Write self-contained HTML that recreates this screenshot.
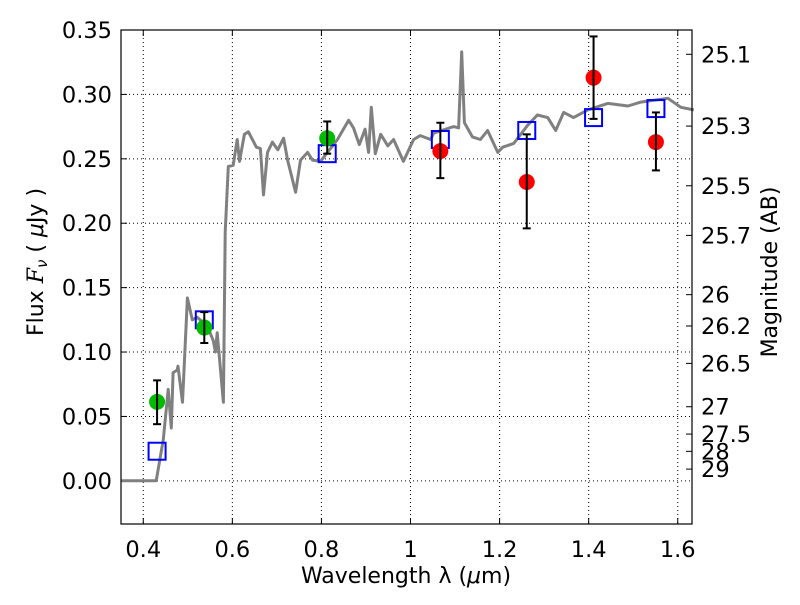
<!DOCTYPE html>
<html><head><meta charset="utf-8"><style>
body{margin:0;background:#fff;}
svg text{font-family:"DejaVu Sans","Liberation Sans",sans-serif;fill:#000;}
</style></head><body>
<svg id="chart" width="800" height="600" xmlns="http://www.w3.org/2000/svg"></svg>
<script>
// spectrum data
const specLambda=[0.35,0.429,0.445,0.456,0.463,0.467,0.476,0.478,0.488,0.499,0.510,0.521,0.544,0.557,0.562,0.566,0.580,0.584,0.591,0.602,0.611,0.616,0.627,0.636,0.654,0.663,0.670,0.679,0.690,0.702,0.715,0.724,0.742,0.753,0.769,0.780,0.798,0.836,0.861,0.872,0.885,0.898,0.906,0.912,0.921,0.933,0.949,0.962,0.984,1.007,1.022,1.045,1.052,1.097,1.108,1.115,1.121,1.139,1.157,1.173,1.196,1.207,1.232,1.263,1.285,1.308,1.326,1.344,1.366,1.398,1.443,1.488,1.517,1.578,1.607,1.636];
const specFlux=[0,0,0.032,0.071,0.041,0.084,0.086,0.089,0.061,0.142,0.125,0.127,0.120,0.109,0.100,0.115,0.061,0.193,0.244,0.245,0.265,0.248,0.269,0.271,0.259,0.258,0.222,0.255,0.263,0.257,0.266,0.249,0.224,0.249,0.255,0.249,0.248,0.265,0.280,0.274,0.261,0.273,0.255,0.290,0.254,0.269,0.260,0.265,0.248,0.265,0.268,0.265,0.270,0.275,0.274,0.333,0.278,0.267,0.265,0.272,0.255,0.259,0.262,0.276,0.284,0.282,0.272,0.286,0.282,0.288,0.293,0.291,0.294,0.297,0.290,0.288];
// photometry
const greenLambda=[0.431,0.537,0.813];
const greenFlux=[0.0613,0.119,0.266];
const greenLo=[0.044,0.107,0.254];
const greenHi=[0.078,0.131,0.279];
const redLambda=[1.067,1.261,1.411,1.551];
const redFlux=[0.256,0.232,0.313,0.263];
const redLo=[0.235,0.196,0.281,0.241];
const redHi=[0.278,0.269,0.345,0.286];
const modelLambda=[0.431,0.537,0.813,1.067,1.261,1.411,1.551];
const modelFlux=[0.023,0.125,0.254,0.265,0.272,0.282,0.289];
// axes
const xTicks=[0.4,0.6,0.8,1.0,1.2,1.4,1.6];
const xTickLabels=["0.4","0.6","0.8","1","1.2","1.4","1.6"];
const yTicks=[0,0.05,0.1,0.15,0.2,0.25,0.3,0.35];
const yTickLabels=["0.00","0.05","0.10","0.15","0.20","0.25","0.30","0.35"];
const magTicks=[25.1,25.3,25.5,25.7,26,26.2,26.5,27,27.5,28,29];
const magTickLabels=["25.1","25.3","25.5","25.7","26","26.2","26.5","27","27.5","28","29"];

const L=121,R=692,T=30,B=524;
const X0=0.35,X1=1.632,Y0=-0.0335,Y1=0.35;
const FS=22.5;
const sx=v=>L+(v-X0)/(X1-X0)*(R-L);
const sy=v=>B-(v-Y0)/(Y1-Y0)*(B-T);
const svg=document.getElementById('chart');
const NS="http://www.w3.org/2000/svg";
function mk(tag,attrs,parent){const e=document.createElementNS(NS,tag);for(const k in attrs)e.setAttribute(k,attrs[k]);(parent||svg).appendChild(e);return e;}

// grid
xTicks.forEach((v,i)=>{
 const g=mk('line',{x1:sx(v),x2:sx(v),y1:T,y2:B,stroke:'#000','stroke-width':1,'stroke-dasharray':'1,3'});
 
 
 mk('line',{x1:sx(v),x2:sx(v),y1:B,y2:B-6,stroke:'#000'});
 mk('line',{x1:sx(v),x2:sx(v),y1:T,y2:T+6,stroke:'#000'});
 const t=mk('text',{x:sx(v),y:B+33,'text-anchor':'middle','font-size':FS});
 t.textContent=xTickLabels[i];
 
 
});
yTicks.forEach((v,i)=>{
 const g=mk('line',{x1:L,x2:R,y1:sy(v),y2:sy(v),stroke:'#000','stroke-width':1,'stroke-dasharray':'1,3'});
 
 
 mk('line',{x1:L,x2:L+6,y1:sy(v),y2:sy(v),stroke:'#000'});
 const t=mk('text',{x:L-9,y:sy(v)+8,'text-anchor':'end','font-size':FS});
 t.textContent=yTickLabels[i];
 
 
});
magTicks.forEach((m,i)=>{
 const f=Math.pow(10,(23.9-m)/2.5);
 mk('line',{x1:R,x2:R-6,y1:sy(f),y2:sy(f),stroke:'#000'});
 const t=mk('text',{x:R+9,y:sy(f)+8,'font-size':FS});
 t.textContent=magTickLabels[i];
 
 
});

// spectrum
const pts=specLambda.map((l,i)=>sx(l).toFixed(1)+','+sy(specFlux[i]).toFixed(1)).join(' ');
const sp=mk('polyline',{points:pts,fill:'none',stroke:'#808080','stroke-width':3,'stroke-linejoin':'round'});



// model squares
modelLambda.forEach((l,i)=>{
 const r=mk('rect',{x:sx(l)-8.5,y:sy(modelFlux[i])-8.5,width:17,height:17,fill:'none',stroke:'#0000ff','stroke-width':2});
 
 
});
function pointsWithErr(lam,flux,lo,hi,color,name){
 lam.forEach((l,i)=>{
  const x=sx(l);
  const c=mk('circle',{cx:x,cy:sy(flux[i]),r:8,fill:color});
  
  
  const e=mk('line',{x1:x,x2:x,y1:sy(lo[i]),y2:sy(hi[i]),stroke:'#000','stroke-width':2});
  
  
  mk('line',{x1:x-4,x2:x+4,y1:sy(lo[i]),y2:sy(lo[i]),stroke:'#000','stroke-width':2});
  mk('line',{x1:x-4,x2:x+4,y1:sy(hi[i]),y2:sy(hi[i]),stroke:'#000','stroke-width':2});
 });
}
pointsWithErr(greenLambda,greenFlux,greenLo,greenHi,'#00bb00','ground-photometry-point');
pointsWithErr(redLambda,redFlux,redLo,redHi,'#ff0000','hst-photometry-point');

// frame
const fr=mk('rect',{x:L,y:T,width:R-L,height:B-T,fill:'none',stroke:'#000','stroke-width':1.2});


</script>
<svg width="800" height="600" style="position:absolute;left:0;top:0" xmlns="http://www.w3.org/2000/svg">
<text x="406" y="583" text-anchor="middle" font-size="22">Wavelength  λ (<tspan font-style="italic">μ</tspan>m)</text>
<text transform="translate(43,262) rotate(-90)" text-anchor="middle" font-size="22">Flux  <tspan font-style="italic" font-family="DejaVu Serif">F</tspan><tspan font-style="italic" font-size="15" dy="4">ν</tspan><tspan dy="-4">  ( </tspan><tspan font-style="italic">μ</tspan>Jy )</text>
<text transform="translate(777,272) rotate(-90)" text-anchor="middle" font-size="22">Magnitude (AB)</text>
</svg>
</body></html>
